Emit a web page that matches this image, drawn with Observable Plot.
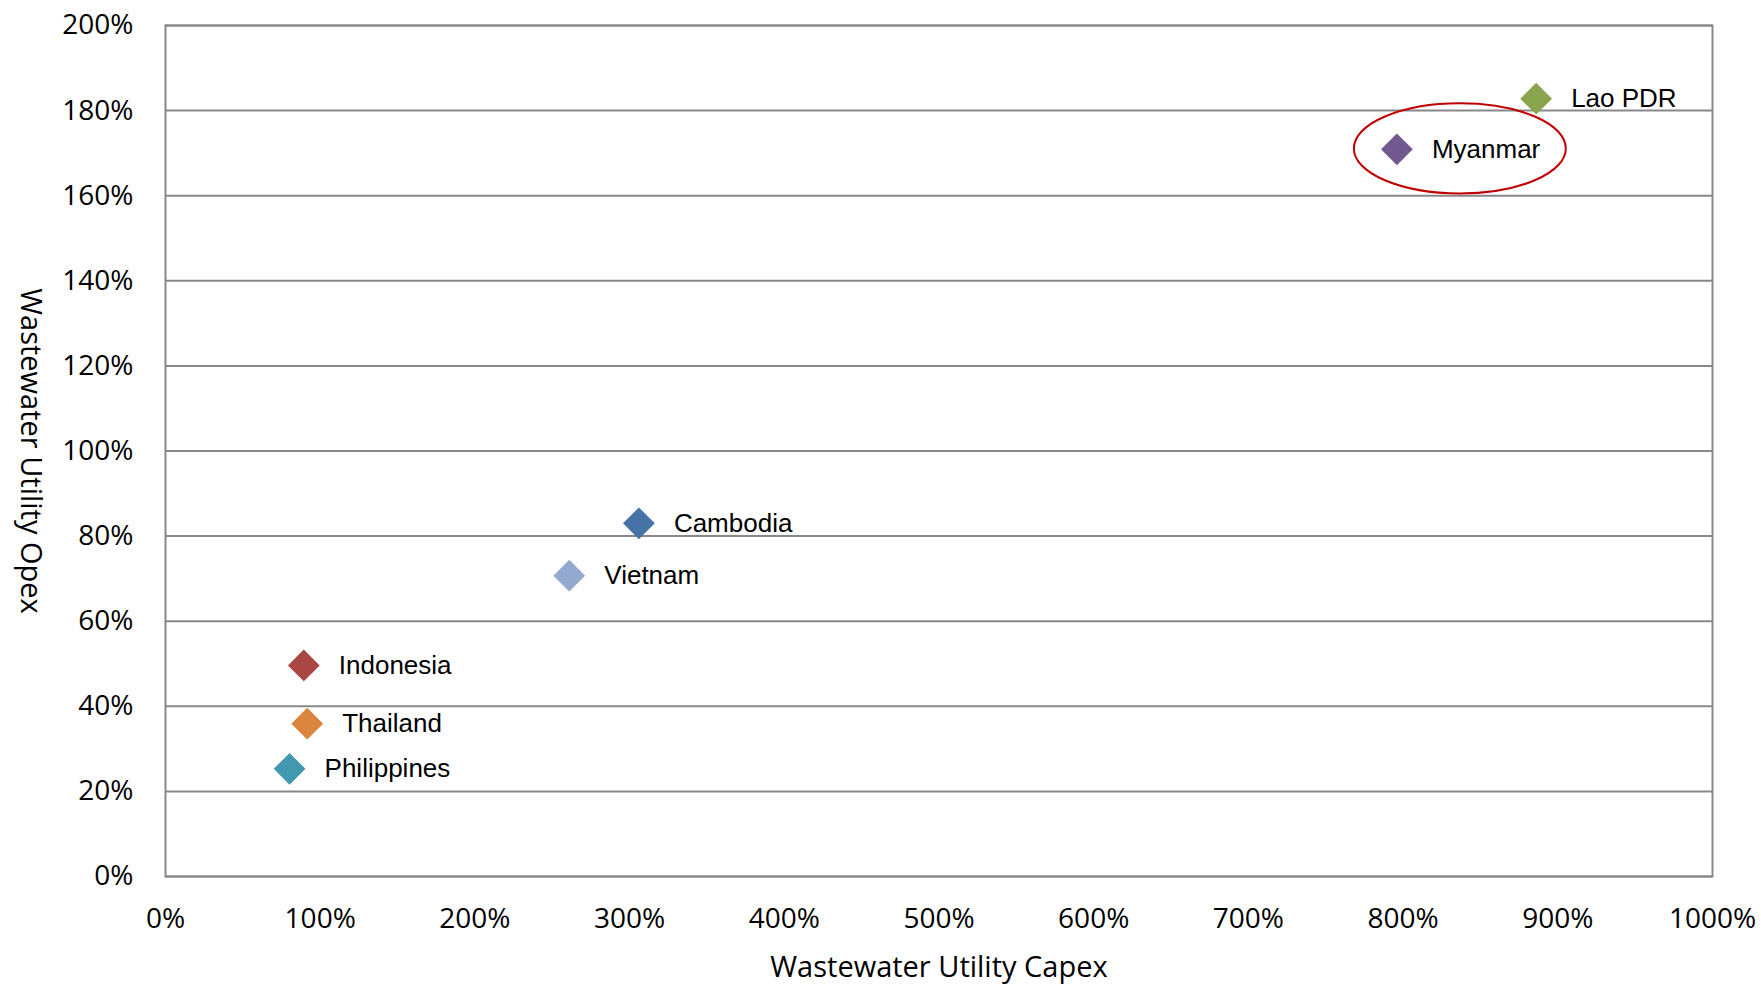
<!DOCTYPE html>
<html><head><meta charset="utf-8">
<script src="https://cdn.jsdelivr.net/npm/d3@7"></script>
<script src="https://cdn.jsdelivr.net/npm/@observablehq/plot@0.6"></script>
<style>body{margin:0;background:#fff}</style>
</head><body><div id="chart"></div>
<script>
const countries = ["Lao PDR", "Myanmar", "Cambodia", "Vietnam", "Indonesia", "Thailand", "Philippines"];
const capex = [8.86, 7.96, 3.06, 2.61, 0.894, 0.916, 0.802];
const opex = [1.828, 1.709, 0.830, 0.707, 0.496, 0.359, 0.253];
const colors = ["#89A54E", "#71588F", "#4572A7", "#93A9CF", "#AA4643", "#DB843D", "#4198AF"];
const xTicks = [0, 1, 2, 3, 4, 5, 6, 7, 8, 9, 10];
const yTicks = [0, 0.2, 0.4, 0.6, 0.8, 1.0, 1.2, 1.4, 1.6, 1.8, 2.0];
const xTitle = "Wastewater Utility Capex";
const yTitle = "Wastewater Utility Opex";
const highlightCenter = {cx: 8.37, cy: 1.71};
const highlightRadii = {rx: 0.685, ry: 0.106};

const data = countries.map((c, i) => ({country: c, capex: capex[i], opex: opex[i], color: colors[i]}));
const pct = d => Math.round(d * 100) + "%";

const ellipseMark = (index, scales) => {
  const g = d3.create("svg:g");
  const {cx, cy} = highlightCenter, {rx, ry} = highlightRadii;
  g.append("ellipse")
    .attr("cx", scales.x(cx)).attr("cy", scales.y(cy))
    .attr("rx", scales.x(cx + rx) - scales.x(cx))
    .attr("ry", scales.y(cy - ry) - scales.y(cy))
    .attr("fill", "none").attr("stroke", "#C00000").attr("stroke-width", 2);
  return g.node();
};

const chart = Plot.plot({
  width: 1761, height: 984,
  marginLeft: 165, marginRight: 49, marginTop: 25, marginBottom: 108,
  style: {fontFamily: "'Open Sans', sans-serif", fontSize: "28px", background: "#fff", color: "#000"},
  x: {domain: [0, 10]},
  y: {domain: [0, 2]},
  color: {type: "identity"},
  marks: [
    Plot.gridY(yTicks, {stroke: "#888", strokeOpacity: 1, strokeWidth: 2}),
    Plot.frame({stroke: "#888", strokeWidth: 2}),
    Plot.axisX(xTicks, {tickSize: 0, tickPadding: 32, tickFormat: pct, label: null}),
    Plot.axisY(yTicks, {tickSize: 0, tickPadding: 32, tickFormat: pct, label: null}),
    Plot.dot(data, {x: "capex", y: "opex", symbol: "diamond2", r: 14.3, fill: "color", stroke: "none"}),
    Plot.text(data, {x: "capex", y: "opex", text: "country", dx: 35, textAnchor: "start",
      fontFamily: "'Liberation Sans', Arial, sans-serif", fontSize: 26, fill: "#000"}),
    ellipseMark,
    Plot.text([xTitle], {frameAnchor: "bottom", dy: 100, lineAnchor: "bottom", textAnchor: "middle", fontSize: 29, fill: "#000"}),
    Plot.text([yTitle], {frameAnchor: "left", dx: -135, rotate: 90, textAnchor: "middle", lineAnchor: "middle", fontSize: 29, fill: "#000"})
  ]
});
document.getElementById("chart").append(chart);
</script>
</body></html>
